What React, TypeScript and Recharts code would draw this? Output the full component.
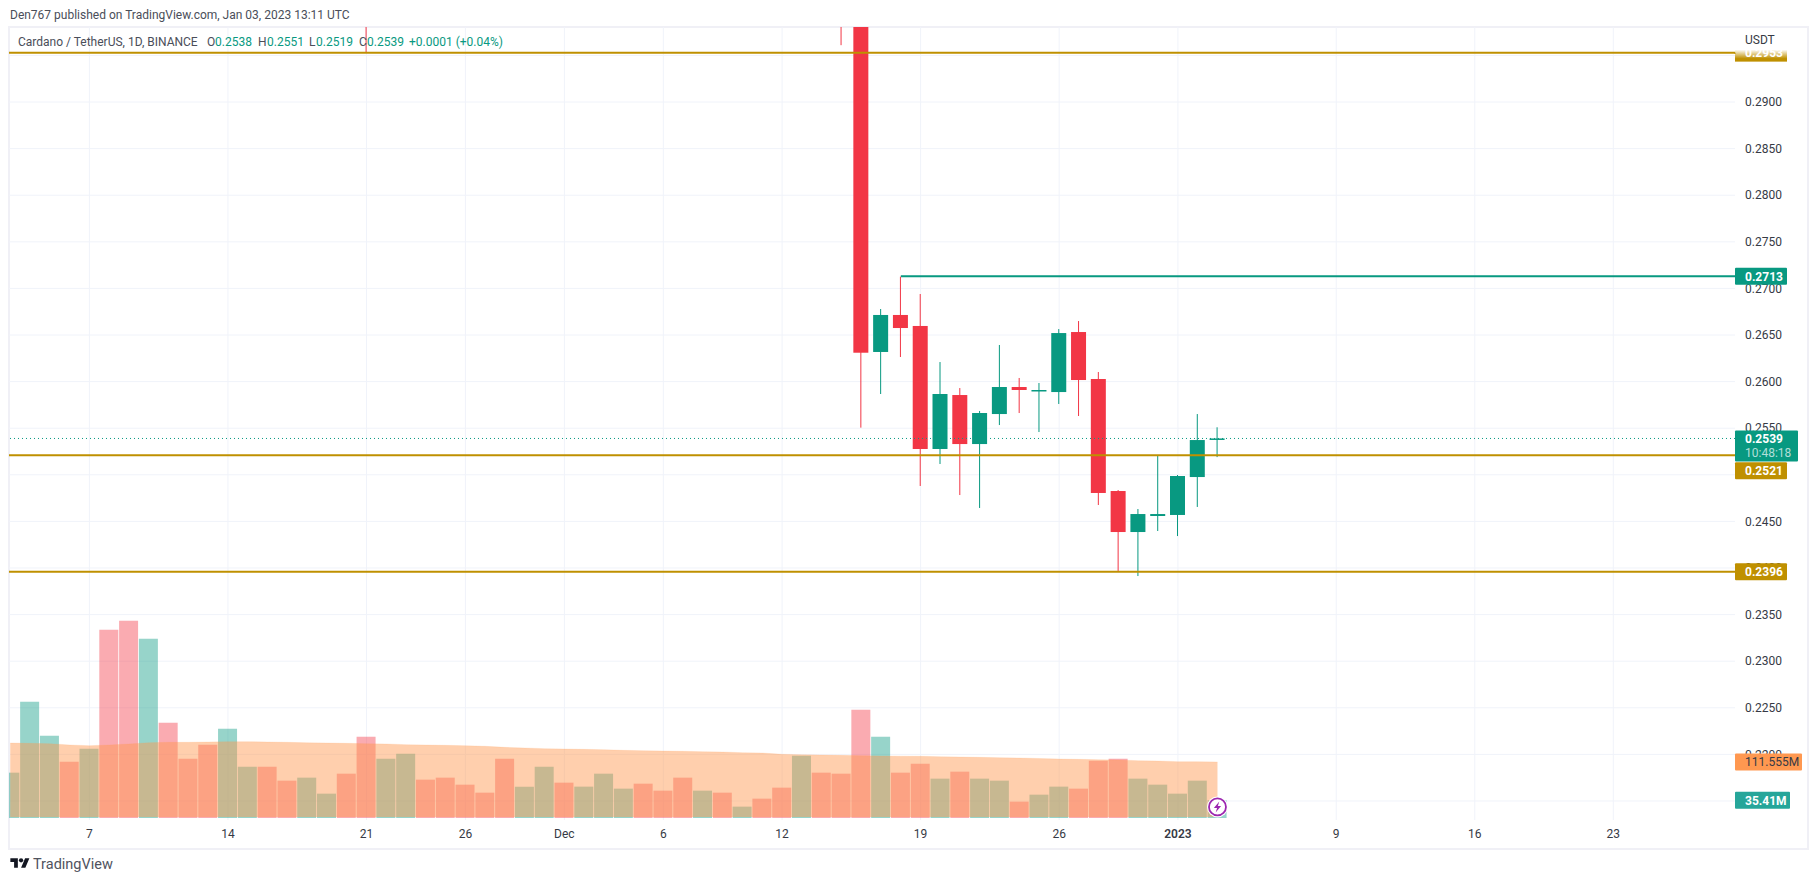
import {
  Area,
  Bar,
  CartesianGrid,
  Cell,
  ComposedChart,
  ReferenceDot,
  ReferenceLine,
  XAxis,
  YAxis,
} from "recharts";

const FONT = "Roboto, sans-serif";
const TEAL = "#089981";
const RED = "#f23645";
const GOLD = "#bf9000";
const ON_TOP = 3000;

// one entry per day, 3 Nov 2022 to 3 Jan 2023, in millions
const volumes = [
  90.2, 231.5, 163.8, 112.1, 138, 374.8, 392.7, 356.9, 189.7, 118, 145.9, 177.8, 102.2, 102.2,
  74.3, 80.3, 48.4, 88.2, 161.9, 118, 128, 76.3, 80.3, 66.3, 50.4, 118, 62.4, 102.2,
  70.3, 62.4, 88.2, 58.4, 68.3, 54.4, 80.3, 54.4, 50.4, 22.6, 38.5, 60.4, 124, 90.2, 88.2, 215.6,
  161.9, 90.2, 108.1, 78.3, 92.2, 78.3, 74.3, 32.5, 46.4, 62.4, 58.4, 114.1, 118, 78.3, 66.3,
  48.4, 74.3, 35.41,
];

const volumeSides = [
  "u", "u", "u", "d", "u", "d", "d", "u", "d", "d", "d", "u", "u", "d",
  "d", "u", "u", "d", "d", "u", "u", "d", "d", "d", "d", "d", "u", "u",
  "d", "u", "u", "u", "d", "d", "d", "u", "d", "u", "d", "d", "u", "d", "d", "d",
  "u", "d", "d", "u", "d", "u", "u", "d", "u", "u", "d", "d", "d", "u", "u",
  "u", "u", "u",
];

const volumeMa = [
  149.2, 148.6, 147.9, 145.3, 143.9, 145.3, 147.3, 149.9, 150.6, 150.6, 151.2, 151.9, 151.9, 151.2,
  150.6, 149.6, 149.2, 148.6, 147.9, 147.3, 145.9, 145.3, 144.6, 143.9, 142.6, 140.6, 139.3, 138,
  137.3, 136.6, 136, 134.6, 134, 133.3, 132.7, 132, 131.3, 130, 129.3, 126.7, 126, 125.4, 124.7, 124,
  123.4, 123, 122.7, 122, 121.4, 120.7, 120.1, 119.4, 118.4, 117.4, 116.7, 116.1, 115.4, 114.1, 113.4,
  112.1, 112.1, 111.555,
];

// candles inside the visible price range, day numbers count from 3 Nov
const candleDays = [18, 42, 43, 44, 45, 46, 47, 48, 49, 50, 51, 52, 53, 54, 55, 56, 57, 58, 59, 60, 61];
const opens = [
  0.3060, 0.3050, 0.3, 0.26318, 0.26715, 0.26597, 0.25277, 0.25856, 0.2533, 0.25652, 0.25942,
  0.25899, 0.25888, 0.26532, 0.26028, 0.24826, 0.24386, 0.24558, 0.24569, 0.24976, 0.2538,
];
const highs = [
  0.312, 0.312, 0.31, 0.26779, 0.27126, 0.2694, 0.2621, 0.25931, 0.25685, 0.26393, 0.26039,
  0.25985, 0.26564, 0.2665, 0.26103, 0.24837, 0.24633, 0.2521, 0.24998, 0.25652, 0.2551,
];
const lows = [
  0.29536, 0.2961, 0.25506, 0.25867, 0.26264, 0.2488, 0.25116, 0.24783, 0.24644, 0.25534, 0.25663,
  0.25459, 0.2576, 0.25631, 0.24676, 0.23961, 0.23914, 0.24397, 0.24343, 0.24655, 0.2519,
];
const closes = [
  0.305, 0.3, 0.2631, 0.26715, 0.26575, 0.25277, 0.25867, 0.2533, 0.25663, 0.25942, 0.2591,
  0.2591, 0.26521, 0.26017, 0.24805, 0.24386, 0.24579, 0.24579, 0.24987, 0.25373, 0.2539,
];

const tickDays = [4, 11, 18, 23, 28, 33, 39, 46, 53, 59, 67, 74, 81];
const tickLabels = ["7", "14", "21", "26", "Dec", "6", "12", "19", "26", "2023", "9", "16", "23"];

const priceTicks = [
  0.215, 0.22, 0.225, 0.23, 0.235, 0.24, 0.245, 0.25, 0.255, 0.26, 0.265, 0.27, 0.275, 0.28, 0.285,
  0.29, 0.295,
];

const rows = volumes.map((volume, day) => {
  const i = candleDays.indexOf(day);
  return {
    day,
    volume,
    side: volumeSides[day],
    ma: volumeMa[day],
    open: i < 0 ? null : opens[i],
    high: i < 0 ? null : highs[i],
    low: i < 0 ? null : lows[i],
    close: i < 0 ? null : closes[i],
  };
});

function Candle(props: any) {
  const { x, y, width, height, payload } = props;
  if (payload.open == null) return null;
  const { open, high, low, close } = payload;
  const yOf = (p: number) => y + ((high - p) / (high - low)) * height;
  const color = close >= open ? TEAL : RED;
  const top = yOf(Math.max(open, close));
  const bottom = yOf(Math.min(open, close));
  return (
    <g>
      <rect x={x + width / 2 - 0.5} y={y} width={1} height={height} fill={color} />
      <rect x={x} y={top} width={width} height={Math.max(bottom - top, 1.5)} fill={color} />
    </g>
  );
}

function Tag(p: { x: number; y: number; w: number; fill: string; text: string; color?: string }) {
  return (
    <g>
      <rect x={p.x} y={p.y - 8.5} width={p.w} height={17} fill={p.fill} rx={1} />
      <text x={p.x + 10} y={p.y + 4.5} fill={p.color ?? "#fff"} fontFamily={FONT} fontSize={12} fontWeight={p.color ? 400 : 700}>
        {p.text}
      </text>
    </g>
  );
}

// tagShift: the 0.2521 tag sits under the last price tag, not on its own line
function levelWithTag(color: string, text: string, tagShift = 0) {
  return (p: any) => {
    const right = Math.max(p.x1, p.x2);
    return (
      <g>
        <line x1={p.x1} y1={p.y1} x2={p.x2} y2={p.y2} stroke={color} strokeWidth={2} />
        <Tag x={right} y={p.y1 + tagShift} w={52} fill={color} text={text} />
      </g>
    );
  };
}

function TopLevel(p: any) {
  const right = Math.max(p.x1, p.x2);
  return (
    <g>
      <defs>
        <linearGradient id="fadeGold" x1="0" y1="0" x2="0" y2="1">
          <stop offset="0" stopColor="#fff" />
          <stop offset="0.75" stopColor={GOLD} />
        </linearGradient>
      </defs>
      <line x1={p.x1} y1={p.y1} x2={p.x2} y2={p.y2} stroke={GOLD} strokeWidth={2} />
      <rect x={right} y={p.y1 - 3} width={52} height={12} fill="url(#fadeGold)" />
      <line x1={right} y1={27} x2={right} y2={p.y1} stroke={GOLD} />
      <text x={right + 10} y={p.y1 + 4.5} fill="#fff" fontFamily={FONT} fontSize={12} fontWeight={700}>
        0.2953
      </text>
    </g>
  );
}

function LastPrice(p: any) {
  const right = Math.max(p.x1, p.x2);
  return (
    <g>
      <line x1={p.x1} y1={p.y1} x2={p.x2} y2={p.y2} stroke={TEAL} strokeDasharray="1 3" />
      <rect x={right} y={p.y1 - 8} width={63} height={31} fill={TEAL} rx={1} />
      <text x={right + 10} y={p.y1 + 4.5} fill="#fff" fontFamily={FONT} fontSize={12} fontWeight={700}>
        0.2539
      </text>
      <text x={right + 10} y={p.y1 + 18.5} fill="#fff" fillOpacity={0.7} fontFamily={FONT} fontSize={12}>
        10:48:18
      </text>
    </g>
  );
}

function Bolt(p: any) {
  return (
    <g transform={`translate(${p.cx},${p.cy})`}>
      <circle r={10.5} fill="#fff" />
      <circle r={8.5} fill="#fff" stroke="#9c27b0" strokeWidth={1.8} />
      <path d="M1.8 -5.5 L-3.6 1 L-0.4 1 L-1.8 5.5 L3.6 -1 L0.4 -1 Z" fill="#9c27b0" />
    </g>
  );
}

function TimeTick(p: any) {
  const label = tickLabels[tickDays.indexOf(p.payload.value)];
  return (
    <text x={p.x} y={p.y} dy={10} textAnchor="middle" fill="#363a45" fontFamily={FONT} fontSize={12} fontWeight={label === "2023" ? 600 : 400}>
      {label}
    </text>
  );
}

const legendParts = [
  { x: 18, text: "Cardano / TetherUS, 1D, BINANCE", color: "#4a4e59" },
  { x: 207, text: "O", color: "#4a4e59" },
  { x: 215, text: "0.2538", color: TEAL },
  { x: 258, text: "H", color: "#4a4e59" },
  { x: 267, text: "0.2551", color: TEAL },
  { x: 309, text: "L", color: "#4a4e59" },
  { x: 316, text: "0.2519", color: TEAL },
  { x: 359, text: "C", color: "#4a4e59" },
  { x: 367, text: "0.2539", color: TEAL },
  { x: 409, text: "+0.0001 (+0.04%)", color: TEAL },
];

export default function App() {
  return (
    <div style={{ position: "absolute", left: 0, top: 0, width: 1817, height: 882, background: "#fff", overflow: "hidden", fontFamily: FONT }}>
      <div style={{ position: "absolute", left: 10, top: 8, fontSize: 12, color: "#4a4e59", whiteSpace: "nowrap" }}>
        Den767 published on TradingView.com, Jan 03, 2023 13:11 UTC
      </div>

      {/* frame */}
      <div style={{ position: "absolute", left: 8, top: 26, width: 1797, height: 820, border: "2px solid #f0f0f6" }} />

      <div style={{ position: "absolute", left: 9, top: 27 }}>
        <ComposedChart
          width={1796}
          height={820}
          data={rows}
          margin={{ top: 0, right: 0, bottom: 0, left: 0 }}
          barGap={0}
        >
          <CartesianGrid stroke="#f0f3fa" horizontalValues={priceTicks} verticalValues={tickDays} />
          <XAxis
            dataKey="day"
            type="number"
            domain={[-0.0627, 87.15]}
            allowDataOverflow
            ticks={tickDays}
            interval={0}
            axisLine={false}
            tickLine={false}
            height={27}
            tick={<TimeTick />}
          />
          <XAxis xAxisId="candle" dataKey="day" type="number" domain={[-0.0627, 87.15]} allowDataOverflow hide />
          <YAxis
            orientation="right"
            type="number"
            domain={[0.21296, 0.29805]}
            allowDataOverflow
            ticks={priceTicks}
            interval={0}
            width={70}
            axisLine={false}
            tickLine={false}
            tickMargin={4}
            tick={{ fill: "#363a45", fontFamily: FONT, fontSize: 12 }}
            tickFormatter={(v: number) => v.toFixed(4)}
          />
          <YAxis yAxisId="vol" type="number" domain={[-4, 1574]} hide />

          <Bar yAxisId="vol" dataKey="volume" barSize={19} zIndex={100} isAnimationActive={false}>
            {rows.map((r) => (
              <Cell key={r.day} fill={r.side === "u" ? "rgba(8,153,129,0.42)" : "rgba(242,54,69,0.42)"} />
            ))}
          </Bar>
          <Area
            yAxisId="vol"
            dataKey="ma"
            type="linear"
            baseValue={2}
            stroke="#ff9850"
            strokeOpacity={0.15}
            fill="#ff9850"
            fillOpacity={0.465}
            dot={false}
            activeDot={false}
            zIndex={200}
            isAnimationActive={false}
          />
          <Bar
            xAxisId="candle"
            dataKey={(d: any) => (d.high == null ? null : [d.low, d.high])}
            barSize={15}
            shape={<Candle />}
            zIndex={300}
            isAnimationActive={false}
          />

          <ReferenceLine y={0.2953} ifOverflow="visible" shape={TopLevel} zIndex={ON_TOP} />
          <ReferenceLine y={0.2539} ifOverflow="visible" shape={LastPrice} zIndex={ON_TOP} />
          <ReferenceLine y={0.2521} ifOverflow="visible" shape={levelWithTag(GOLD, "0.2521", 15.5)} zIndex={ON_TOP} />
          <ReferenceLine y={0.2396} ifOverflow="visible" shape={levelWithTag(GOLD, "0.2396")} zIndex={ON_TOP} />
          <ReferenceLine
            segment={[{ x: 45, y: 0.2713 }, { x: 87.15, y: 0.2713 }]}
            ifOverflow="visible"
            shape={levelWithTag(TEAL, "0.2713")}
            zIndex={ON_TOP}
          />
          <ReferenceLine
            yAxisId="vol"
            y={111.555}
            ifOverflow="visible"
            shape={(p: any) => <Tag x={Math.max(p.x1, p.x2)} y={p.y1} w={67} fill="#ff9850" text="111.555M" color="#363a45" />}
            zIndex={ON_TOP}
          />
          <ReferenceLine
            yAxisId="vol"
            y={35.41}
            ifOverflow="visible"
            shape={(p: any) => <Tag x={Math.max(p.x1, p.x2)} y={p.y1} w={55} fill="#26a69a" text="35.41M" />}
            zIndex={ON_TOP}
          />
          <ReferenceDot yAxisId="vol" x={61} y={22} ifOverflow="visible" shape={Bolt} zIndex={ON_TOP} />
        </ComposedChart>
      </div>

      {/* legend row */}
      {legendParts.map((part) => (
        <span key={part.x} style={{ position: "absolute", left: part.x, top: 35, fontSize: 12, lineHeight: "14px", color: part.color, whiteSpace: "nowrap" }}>
          {part.text}
        </span>
      ))}
      <span style={{ position: "absolute", left: 1745, top: 33, fontSize: 12, lineHeight: "14px", color: "#363a45" }}>USDT</span>

      {/* logo */}
      <svg style={{ position: "absolute", left: 10, top: 856 }} width={20} height={15} viewBox="0 0 36 28">
        <path d="M14 22H7V11H0V4h14v18zM28 22h-8l7.5-18h8L28 22z" fill="#131722" />
        <circle cx={20} cy={8} r={4} fill="#131722" />
      </svg>
      <span style={{ position: "absolute", left: 33, top: 856, fontSize: 14.5, lineHeight: "18px", color: "#50535e" }}>TradingView</span>
    </div>
  );
}
